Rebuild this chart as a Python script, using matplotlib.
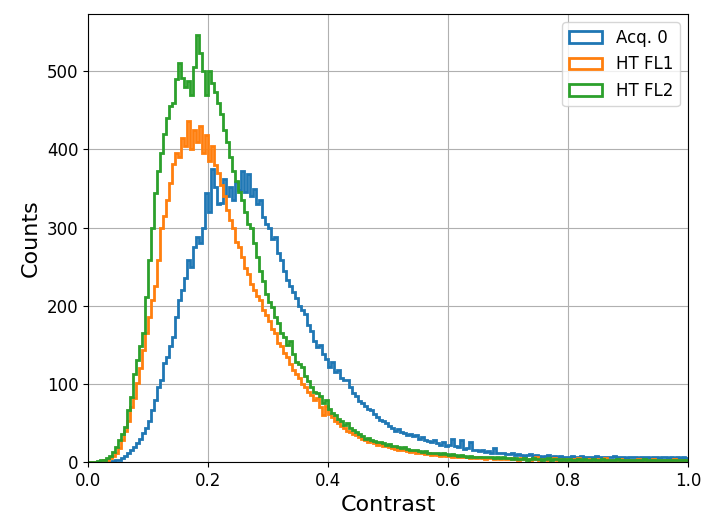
import matplotlib
matplotlib.use("Agg")
import matplotlib.pyplot as plt
import numpy as np

# Histogram counts, 200 bins over contrast 0..1.
acq0_counts = [
    0, 0, 0, 0, 0, 0, 0, 0, 1, 2,
    3, 5, 8, 12, 15, 19, 24, 30, 37, 44,
    52, 66, 80, 96, 105, 127, 135, 148, 160, 185,
    207, 220, 235, 258, 250, 275, 288, 280, 300, 344,
    320, 375, 352, 330, 331, 362, 340, 352, 335, 358,
    348, 372, 345, 368, 340, 350, 330, 335, 313, 305,
    300, 285, 288, 268, 258, 245, 233, 225, 218, 210,
    200, 195, 190, 175, 168, 155, 147, 150, 138, 132,
    122, 128, 115, 118, 108, 105, 105, 96, 88, 85,
    78, 75, 72, 68, 66, 62, 58, 54, 52, 50,
    46, 44, 40, 42, 38, 37, 35, 36, 33, 35,
    30, 32, 28, 27, 25, 28, 24, 22, 26, 20,
    22, 30, 20, 19, 28, 17, 18, 25, 15, 16,
    14, 15, 13, 14, 12, 18, 12, 11, 12, 10,
    10, 11, 9, 10, 9, 8, 9, 10, 8, 9,
    8, 7, 8, 9, 7, 8, 7, 8, 7, 6,
    7, 8, 6, 7, 8, 6, 7, 7, 6, 8,
    6, 7, 6, 6, 7, 8, 6, 6, 7, 5,
    6, 7, 6, 5, 6, 6, 7, 5, 6, 6,
    5, 6, 7, 5, 6, 5, 6, 5, 6, 5,
]
fl1_counts = [
    0, 0, 0, 0, 1, 2, 3, 5, 8, 12,
    18, 28, 40, 52, 70, 82, 101, 120, 143, 165,
    185, 207, 225, 258, 300, 315, 335, 357, 382, 395,
    390, 415, 405, 437, 400, 425, 410, 430, 395, 418,
    385, 405, 380, 370, 355, 340, 322, 310, 300, 282,
    275, 262, 248, 240, 228, 220, 212, 207, 195, 188,
    180, 170, 165, 152, 148, 140, 135, 125, 118, 112,
    108, 100, 96, 90, 86, 80, 82, 70, 60, 72,
    62, 58, 52, 50, 46, 44, 40, 38, 36, 35,
    32, 30, 28, 26, 27, 24, 22, 23, 21, 20,
    19, 18, 17, 16, 15, 16, 14, 13, 14, 12,
    12, 11, 10, 11, 9, 10, 9, 8, 9, 8,
    8, 7, 8, 6, 7, 7, 6, 5, 6, 5,
    6, 5, 4, 5, 5, 4, 5, 4, 5, 4,
    4, 5, 4, 3, 5, 4, 4, 3, 4, 6,
    3, 4, 4, 3, 4, 5, 3, 4, 3, 4,
    3, 4, 3, 5, 3, 3, 4, 3, 3, 4,
    3, 3, 5, 3, 2, 3, 3, 4, 3, 3,
    2, 3, 3, 4, 2, 3, 3, 2, 4, 3,
    2, 3, 3, 2, 3, 4, 2, 3, 2, 3,
]
fl2_counts = [
    0, 0, 0, 1, 2, 3, 5, 8, 13, 19,
    28, 36, 45, 66, 83, 113, 130, 148, 165, 211,
    258, 300, 344, 373, 395, 420, 440, 455, 459, 490,
    511, 492, 480, 488, 470, 505, 546, 523, 500, 470,
    500, 485, 473, 459, 445, 425, 410, 390, 372, 360,
    345, 335, 320, 305, 300, 280, 262, 245, 232, 215,
    205, 198, 185, 178, 165, 160, 150, 155, 138, 128,
    125, 122, 110, 104, 96, 90, 88, 84, 75, 80,
    68, 63, 60, 55, 52, 48, 50, 44, 41, 38,
    36, 33, 30, 31, 28, 27, 25, 26, 24, 22,
    23, 21, 20, 19, 18, 19, 17, 16, 15, 16,
    14, 13, 14, 12, 12, 11, 12, 10, 11, 10,
    9, 10, 9, 8, 9, 8, 7, 8, 7, 7,
    6, 7, 6, 6, 7, 5, 6, 5, 6, 5,
    5, 4, 5, 4, 4, 5, 3, 4, 5, 4,
    4, 3, 4, 5, 3, 4, 4, 3, 4, 3,
    4, 3, 3, 4, 3, 4, 3, 3, 4, 3,
    3, 4, 3, 3, 2, 3, 4, 3, 3, 2,
    3, 3, 2, 3, 3, 4, 2, 3, 3, 2,
    3, 2, 3, 3, 2, 3, 2, 3, 3, 2,
]
labels = ["Acq. 0", "HT FL1", "HT FL2"]
colors = ["tab:blue", "tab:orange", "tab:green"]

series = [acq0_counts, fl1_counts, fl2_counts]
assert all(len(c) == 200 for c in series), [len(c) for c in series]
edges = np.linspace(0.0, 1.0, 201)
centers = 0.5 * (edges[:-1] + edges[1:])

fig = plt.figure(figsize=(7.02, 5.21), dpi=100)
ax = fig.add_axes([0.1254, 0.1132, 0.8547, 0.8599])
for counts, label, color in zip(series, labels, colors):
    ax.hist(centers, bins=edges, weights=counts, histtype="step",
            linewidth=2, color=color, label=label)

ax.set_xlim(0, 1)
ax.grid(True, color="#b0b0b0", linewidth=0.8)
ax.set_axisbelow(True)
ax.tick_params(labelsize=12)
ax.set_xlabel("Contrast", fontsize=16)
ax.set_ylabel("Counts", fontsize=16)
ax.legend(loc="upper right", fontsize=12)

fig.savefig("out.png", dpi=100)
